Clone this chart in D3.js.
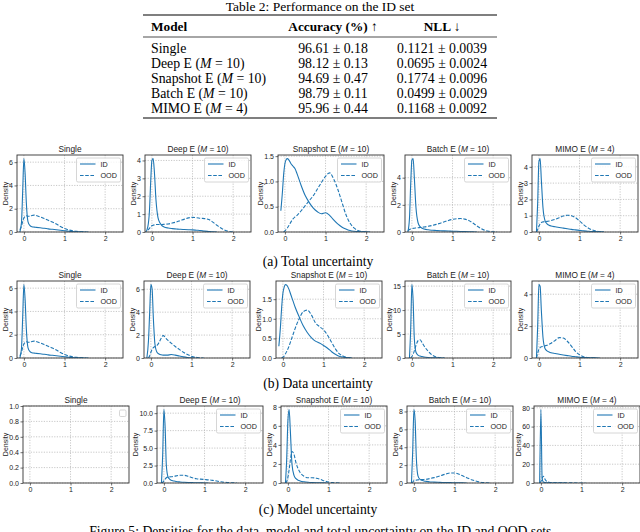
<!DOCTYPE html>
<html>
<head>
<meta charset="utf-8">
<script src="https://cdn.jsdelivr.net/npm/d3@7"></script>
<style>
  body { margin: 0; background: #fff; }
  svg { display: block; }
</style>
</head>
<body>
<script>
// ---------- table data ----------
var models = ["Single", "Deep E", "Snapshot E", "Batch E", "MIMO E"];
var modelM = [null, 10, 10, 10, 4];
var accMean = [96.61, 98.12, 94.69, 98.79, 95.96];
var accStd = [0.18, 0.13, 0.47, 0.11, 0.44];
var nllMean = [0.1121, 0.0695, 0.1774, 0.0499, 0.1168];
var nllStd = [0.0039, 0.0024, 0.0096, 0.0029, 0.0092];

// ---------- density data ----------
// x positions of the density samples
var xGrid = [-0.15, -0.1, -0.06, -0.03, 0, 0.03, 0.06, 0.1, 0.15, 0.2, 0.25, 0.3, 0.4, 0.5, 0.6, 0.7,
             0.8, 0.9, 1.0, 1.1, 1.2, 1.3, 1.4, 1.5, 1.6, 1.7, 1.8, 1.9, 2.0, 2.1, 2.2];

var totalID = [
  [null, 0, 0.8, 3.5, 6.3, 5.0, 2.5, 0.9, 0.55, 0.45, 0.42, 0.4, 0.36, 0.32, 0.27, 0.23, 0.19, 0.15, 0.11, 0.07, 0.04, 0.02, 0.01, 0],
  [0, 0.3, 1.2, 2.8, 4.0, 4.1, 3.4, 1.8, 0.8, 0.5, 0.35, 0.28, 0.22, 0.19, 0.17, 0.15, 0.14, 0.13, 0.12, 0.1, 0.08, 0.05, 0.03, 0.01, 0],
  [null, 0.42, 0.8, 1.15, 1.35, 1.43, 1.45, 1.42, 1.35, 1.3, 1.25, 1.15, 0.92, 0.72, 0.58, 0.47, 0.4, 0.36, 0.38, 0.33, 0.24, 0.16, 0.1, 0.06, 0.03, 0.015, 0.01, 0.005, 0.002, 0],
  [null, 0, 1.0, 3.5, 5.3, 5.4, 4.0, 1.8, 0.7, 0.4, 0.28, 0.22, 0.16, 0.13, 0.11, 0.09, 0.08, 0.07, 0.06, 0.05, 0.04, 0.03, 0.02, 0.01, 0],
  [null, null, 0, 1.8, 4.3, 4.5, 3.2, 1.5, 0.7, 0.5, 0.42, 0.37, 0.32, 0.28, 0.24, 0.2, 0.16, 0.13, 0.1, 0.07, 0.05, 0.03, 0.02, 0.01, 0]
];
var totalOOD = [
  [null, 0.2, 0.5, 0.9, 1.2, 1.35, 1.4, 1.35, 1.35, 1.42, 1.45, 1.42, 1.3, 1.15, 1.0, 0.85, 0.68, 0.47, 0.3, 0.18, 0.1, 0.05, 0.02, 0.01, 0],
  [null, 0.1, 0.2, 0.3, 0.35, 0.38, 0.4, 0.42, 0.42, 0.42, 0.42, 0.43, 0.45, 0.5, 0.56, 0.64, 0.72, 0.79, 0.82, 0.8, 0.77, 0.75, 0.7, 0.55, 0.38, 0.22, 0.1, 0.03, 0],
  [null, null, null, 0, 0.02, 0.05, 0.08, 0.13, 0.2, 0.26, 0.3, 0.33, 0.42, 0.52, 0.62, 0.72, 0.85, 0.98, 1.1, 1.17, 1.05, 0.85, 0.6, 0.35, 0.18, 0.08, 0.03, 0.01, 0],
  [null, 0.1, 0.18, 0.22, 0.25, 0.27, 0.28, 0.3, 0.31, 0.33, 0.35, 0.37, 0.42, 0.48, 0.56, 0.65, 0.75, 0.85, 0.93, 0.98, 0.99, 0.95, 0.85, 0.66, 0.45, 0.26, 0.12, 0.05, 0.01, 0],
  [null, null, 0, 0.15, 0.35, 0.5, 0.58, 0.62, 0.64, 0.65, 0.67, 0.7, 0.78, 0.88, 0.98, 1.03, 1.0, 0.88, 0.68, 0.45, 0.27, 0.14, 0.06, 0.02, 0]
];

var dataID = [
  [null, 0, 0.8, 3.5, 6.3, 5.0, 2.5, 0.9, 0.55, 0.45, 0.42, 0.4, 0.36, 0.32, 0.27, 0.23, 0.19, 0.15, 0.11, 0.07, 0.04, 0.02, 0.01, 0],
  [null, 0, 1.5, 4.0, 6.4, 6.0, 3.5, 1.2, 0.5, 0.35, 0.28, 0.25, 0.25, 0.3, 0.25, 0.17, 0.1, 0.05, 0.02, 0],
  [null, 0.3, 0.8, 1.3, 1.65, 1.8, 1.87, 1.85, 1.75, 1.6, 1.45, 1.3, 1.05, 0.82, 0.65, 0.52, 0.43, 0.38, 0.32, 0.25, 0.16, 0.09, 0.04, 0.02, 0.005, 0],
  [null, null, 0, 6, 15.3, 12, 4, 1.2, 0.6, 0.4, 0.3, 0.22, 0.12, 0.06, 0.03, 0.01, 0],
  [null, null, 0, 2.0, 4.6, 4.5, 3.0, 1.3, 0.6, 0.45, 0.38, 0.33, 0.28, 0.23, 0.19, 0.15, 0.11, 0.08, 0.05, 0.03, 0.02, 0.01, 0.005, 0]
];
var dataOOD = [
  [null, 0.2, 0.5, 0.9, 1.2, 1.35, 1.4, 1.35, 1.35, 1.42, 1.45, 1.42, 1.3, 1.15, 1.0, 0.85, 0.68, 0.47, 0.3, 0.18, 0.1, 0.05, 0.02, 0.01, 0],
  [null, null, 0, 0.2, 0.5, 0.75, 0.9, 1.0, 1.1, 1.35, 1.7, 1.95, 1.6, 1.3, 1.0, 0.75, 0.5, 0.3, 0.15, 0.06, 0.02, 0],
  [null, null, null, 0, 0.02, 0.05, 0.1, 0.18, 0.3, 0.45, 0.6, 0.75, 1.0, 1.18, 1.22, 1.1, 0.9, 0.8, 0.72, 0.58, 0.4, 0.22, 0.1, 0.04, 0.01, 0],
  [null, null, null, 0, 0.3, 0.8, 1.5, 2.6, 3.6, 3.8, 3.2, 2.5, 1.4, 0.6, 0.2, 0.05, 0],
  [null, null, 0, 0.3, 0.55, 0.65, 0.7, 0.73, 0.76, 0.8, 0.86, 0.93, 1.1, 1.28, 1.25, 1.05, 0.75, 0.42, 0.2, 0.08, 0.03, 0.01, 0]
];

var modelID = [
  [],
  [null, null, 0, 4, 10.5, 8, 2.5, 0.9, 0.5, 0.35, 0.28, 0.22, 0.15, 0.1, 0.07, 0.05, 0.03, 0.02, 0.01, 0],
  [null, null, 0, 2.5, 6.5, 7.7, 5.5, 2.0, 0.8, 0.45, 0.3, 0.22, 0.13, 0.08, 0.05, 0.03, 0.02, 0.01, 0],
  [null, null, 0, 3.5, 8.2, 7.0, 2.8, 0.8, 0.4, 0.3, 0.22, 0.18, 0.12, 0.1, 0.08, 0.06, 0.05, 0.04, 0.03, 0.02, 0.01, 0],
  [null, null, null, 0, 78, 5, 1.0, 0.4, 0.2, 0.1, 0.07, 0.05, 0.02, 0.01, 0]
];
var modelOOD = [
  [],
  [null, null, 0, 0.1, 0.3, 0.55, 0.75, 0.85, 0.88, 0.9, 0.95, 1.02, 1.12, 1.1, 0.95, 0.75, 0.62, 0.55, 0.5, 0.45, 0.38, 0.28, 0.18, 0.1, 0.05, 0.02, 0],
  [null, null, 0, 0.15, 0.6, 1.4, 2.4, 3.3, 3.0, 2.1, 1.5, 1.1, 0.7, 0.55, 0.55, 0.5, 0.38, 0.22, 0.1, 0.04, 0.01, 0],
  [null, null, 0, 0.1, 0.25, 0.3, 0.32, 0.35, 0.36, 0.38, 0.4, 0.42, 0.5, 0.6, 0.72, 0.88, 1.02, 1.12, 1.12, 1.0, 0.8, 0.6, 0.4, 0.25, 0.13, 0.06, 0.02, 0],
  [null, null, null, 0, 1.5, 5.0, 7.2, 4.0, 1.5, 0.8, 0.5, 0.4, 0.3, 0.25, 0.2, 0.15, 0.1, 0.05, 0.02, 0]
];

var xTicks = [0, 1, 2];
var yTicksTotal = [[0, 2, 4, 6], [0, 1, 2, 3, 4], [0, 0.5, 1, 1.5], [0, 2, 4], [0, 1, 2, 3, 4]];
var yTicksData = [[0, 2, 4, 6], [0, 2, 4, 6], [0, 0.5, 1, 1.5], [0, 5, 10, 15], [0, 2, 4]];
var yTicksModel = [[0, 0.2, 0.4, 0.6, 0.8, 1], [0, 2.5, 5, 7.5, 10], [0, 2, 4, 6, 8], [0, 2, 4, 6, 8], [0, 20, 40, 60, 80]];
var rowCaptions = ["(a) Total uncertainty", "(b) Data uncertainty", "(c) Model uncertainty"];
var legendLabels = ["ID", "OOD"];

var rows = [
  { id: totalID, ood: totalOOD, yTicks: yTicksTotal },
  { id: dataID, ood: dataOOD, yTicks: yTicksData },
  { id: modelID, ood: modelOOD, yTicks: yTicksModel }
];

// ---------- layout ----------
var W = 640, H = 532;
var blue = "#1f77b4";
var serif = "'Liberation Serif', 'Times New Roman', serif";
var sans = "'Liberation Sans', Arial, sans-serif";
var rowTops = [155, 281, 406];
var plotH = 77, plotW = 106;
var panelLefts = [[17, 145, 278, 405, 532], [17, 144, 276, 405, 532], [23, 157, 281, 407, 534]];
var captionY = [266, 388, 514];

var svg = d3.select("body").append("svg")
  .attr("width", W).attr("height", H)
  .style("font-family", sans);

// ---------- table ----------
var tbl = svg.append("g").style("font-family", serif).attr("fill", "#000");
var colModel = 151, colAcc = 333, colNll = 442;
var bodySize = "13.8px";
tbl.append("text").attr("x", 320).attr("y", 10.5).attr("text-anchor", "middle")
  .style("font-size", "13.5px").text("Table 2: Performance on the ID set");
tbl.append("line").attr("x1", 143).attr("x2", 497).attr("y1", 15).attr("y2", 15)
  .attr("stroke", "#000").attr("stroke-width", 1.2);
var hdr = tbl.append("g").style("font-weight", "bold").style("font-size", "13.3px");
hdr.append("text").attr("x", colModel).attr("y", 30.5).text("Model");
hdr.append("text").attr("x", colAcc).attr("y", 30.5).attr("text-anchor", "middle").text("Accuracy (%) \u2191");
hdr.append("text").attr("x", colNll).attr("y", 30.5).attr("text-anchor", "middle").text("NLL \u2193");
tbl.append("line").attr("x1", 143).attr("x2", 497).attr("y1", 37).attr("y2", 37)
  .attr("stroke", "#000").attr("stroke-width", 0.7);

models.forEach(function(m, i) {
  var y = 52.5 + i * 15;
  var t = tbl.append("text").attr("x", colModel).attr("y", y).style("font-size", bodySize);
  if (modelM[i] == null) {
    t.text(m);
  } else {
    t.append("tspan").text(m + " (");
    t.append("tspan").style("font-style", "italic").text("M");
    t.append("tspan").text(" = " + modelM[i] + ")");
  }
  tbl.append("text").attr("x", colAcc).attr("y", y).attr("text-anchor", "middle").style("font-size", bodySize)
    .text(accMean[i].toFixed(2) + " \u00b1 " + accStd[i].toFixed(2));
  tbl.append("text").attr("x", colNll).attr("y", y).attr("text-anchor", "middle").style("font-size", bodySize)
    .text(nllMean[i].toFixed(4) + " \u00b1 " + nllStd[i].toFixed(4));
});
tbl.append("line").attr("x1", 143).attr("x2", 497).attr("y1", 118).attr("y2", 118)
  .attr("stroke", "#000").attr("stroke-width", 1.2);

// ---------- density panels ----------
function toPoints(vals) {
  return xGrid.map(function(x, i) { return { x: x, y: vals[i] }; });
}

function drawPanel(r, c) {
  var left = panelLefts[r][c], top = rowTops[r];
  var idv = rows[r].id[c], oodv = rows[r].ood[c];
  var yt = rows[r].yTicks[c];
  var ymax = d3.max(idv.concat(oodv));
  ymax = ymax == null ? 1 : ymax * 1.05;

  var x = d3.scaleLinear().domain([-0.17, 2.44]).range([left, left + plotW]);
  var y = d3.scaleLinear().domain([0, ymax]).range([top + plotH, top]);
  var g = svg.append("g");

  // grid
  var grid = g.append("g").attr("stroke", "#b0b0b0").attr("stroke-width", 0.7).attr("stroke-dasharray", "1.2,1.4");
  xTicks.forEach(function(t) {
    grid.append("line").attr("x1", x(t)).attr("x2", x(t)).attr("y1", top).attr("y2", top + plotH);
  });
  yt.forEach(function(t) {
    grid.append("line").attr("x1", left).attr("x2", left + plotW).attr("y1", y(t)).attr("y2", y(t));
  });

  // curves
  var line = d3.line()
    .defined(function(d) { return d.y != null; })
    .x(function(d) { return x(d.x); })
    .y(function(d) { return y(d.y); })
    .curve(d3.curveMonotoneX);
  var clip = "clip-" + r + "-" + c;
  g.append("clipPath").attr("id", clip).append("rect")
    .attr("x", left).attr("y", top - 1).attr("width", plotW).attr("height", plotH + 1);
  var cg = g.append("g").attr("clip-path", "url(#" + clip + ")");
  if (idv.length) {
    cg.append("path").datum(toPoints(idv)).attr("d", line)
      .attr("fill", "none").attr("stroke", blue).attr("stroke-width", 1.1);
  }
  if (oodv.length) {
    cg.append("path").datum(toPoints(oodv)).attr("d", line)
      .attr("fill", "none").attr("stroke", blue).attr("stroke-width", 1.1)
      .attr("stroke-dasharray", "3.6,1.6");
  }

  // axes
  var dec = yt.some(function(t) { return t % 1 !== 0; });
  var fmt = dec ? d3.format(".1f") : d3.format("d");
  var xa = g.append("g").attr("transform", "translate(0," + (top + plotH) + ")")
    .call(d3.axisBottom(x).tickValues(xTicks).tickSize(2.5).tickPadding(1.5).tickFormat(d3.format("d")));
  var ya = g.append("g").attr("transform", "translate(" + left + ",0)")
    .call(d3.axisLeft(y).tickValues(yt).tickSize(2.5).tickPadding(1.5).tickFormat(fmt));
  [xa, ya].forEach(function(a) {
    a.select(".domain").remove();
    a.selectAll(".tick line").attr("stroke", "#333").attr("stroke-width", 0.7);
    a.selectAll(".tick text").attr("fill", "#222").style("font-family", sans).style("font-size", "7px");
  });

  // spines
  g.append("rect").attr("x", left).attr("y", top).attr("width", plotW).attr("height", plotH)
    .attr("fill", "none").attr("stroke", "#333").attr("stroke-width", 0.9);

  // y label
  var maxW = 0;
  ya.selectAll(".tick text").each(function() { maxW = Math.max(maxW, this.getComputedTextLength()); });
  var lx = left - maxW - 5.5;
  g.append("text").attr("transform", "translate(" + lx + "," + (top + plotH / 2) + ") rotate(-90)")
    .attr("text-anchor", "middle").style("font-size", "7px").attr("fill", "#222").text("Density");

  // title
  var tt = g.append("text").attr("x", left + plotW / 2).attr("y", top - 3.5)
    .attr("text-anchor", "middle").style("font-size", "8.3px").attr("fill", "#222");
  if (modelM[c] == null) {
    tt.text(models[c]);
  } else {
    tt.append("tspan").text(models[c] + " (");
    tt.append("tspan").style("font-style", "italic").text("M");
    tt.append("tspan").text(" = " + modelM[c] + ")");
  }

  // legend
  var lg = g.append("g");
  if (!idv.length) {
    lg.append("rect").attr("x", left + plotW - 9.5).attr("y", top + 4).attr("width", 6.5).attr("height", 6.5)
      .attr("rx", 1.2).attr("fill", "#fff").attr("stroke", "#ccc").attr("stroke-width", 0.8);
    return;
  }
  var bw = 44, bh = 24, bx = left + plotW - 2.5 - bw, by = top + 3;
  lg.append("rect").attr("x", bx).attr("y", by).attr("width", bw).attr("height", bh)
    .attr("rx", 1.5).attr("fill", "#fff").attr("fill-opacity", 0.8).attr("stroke", "#ccc").attr("stroke-width", 0.8);
  legendLabels.forEach(function(lbl, i) {
    var ly = by + 6 + i * 11.5;
    lg.append("line").attr("x1", bx + 3.5).attr("x2", bx + 19).attr("y1", ly).attr("y2", ly)
      .attr("stroke", blue).attr("stroke-width", 1.1).attr("stroke-dasharray", i ? "3.6,1.6" : null);
    lg.append("text").attr("x", bx + 24).attr("y", ly + 2.5).style("font-size", "7.2px").attr("fill", "#222").text(lbl);
  });
}

for (var r = 0; r < 3; r++) {
  for (var c = 0; c < 5; c++) drawPanel(r, c);
  svg.append("text").attr("x", 318).attr("y", captionY[r]).attr("text-anchor", "middle")
    .style("font-family", serif).style("font-size", "13.6px").text(rowCaptions[r]);
}

// figure caption (cut by the bottom edge in the source)
svg.append("text").attr("x", 322).attr("y", 536).attr("text-anchor", "middle")
  .style("font-family", serif).style("font-size", "13.7px")
  .text("Figure 5: Densities for the data, model and total uncertainty on the ID and OOD sets.");
</script>
</body>
</html>
